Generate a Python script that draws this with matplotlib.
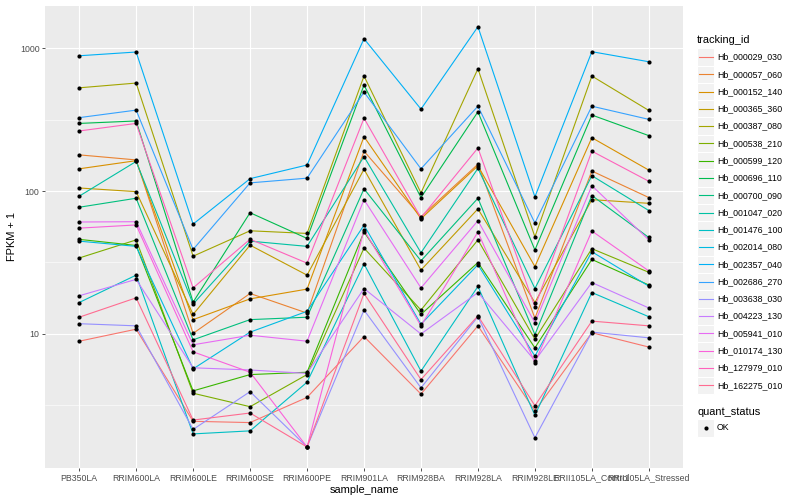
import numpy as np
import matplotlib
matplotlib.use("Agg")
import matplotlib.pyplot as plt
from matplotlib.patches import Rectangle

plt.rcParams['font.family'] = ['Liberation Sans', 'DejaVu Sans']

# samples on the x axis
samples = ["PB350LA", "RRIM600LA", "RRIM600LE", "RRIM600SE", "RRIM600PE",
           "RRIM901LA", "RRIM928BA", "RRIM928LA", "RRIM928LE",
           "RRII105LA_Control", "RRII105LA_Stressed"]

# FPKM + 1 per gene
hb_000029_030 = [8.9, 10.8, 2.45, 2.4, 3.6, 9.6, 3.8, 11.4, 2.9, 10.2, 8.1]
hb_000057_060 = [179, 165, 10.1, 19.2, 14.0, 190, 66, 154, 12.9, 138, 90]
hb_000152_140 = [143, 163, 12.6, 17.6, 20.6, 240, 64, 150, 29.6, 236, 140]
hb_000365_360 = [105, 99, 13.7, 41.8, 25.8, 142, 28, 75, 16.6, 87, 82]
hb_000387_080 = [527, 569, 35, 52.7, 50.5, 637, 97, 716, 47.8, 637, 366]
hb_000538_210 = [34, 45.5, 3.85, 3.1, 5.2, 39.9, 14.7, 45.5, 9.2, 39.5, 27.0]
hb_000599_120 = [45.9, 41.6, 4.0, 5.2, 5.4, 51.7, 13.7, 31.6, 8.0, 33.2, 22.0]
hb_000696_110 = [297, 309, 16.7, 70.5, 46.6, 551, 90, 358, 38.7, 340, 244]
hb_000700_090 = [77, 89, 9.1, 12.6, 13.1, 103.6, 32.5, 89, 9.9, 93, 47.3]
hb_001047_020 = [92, 161, 16.2, 44.6, 41, 174, 37, 144, 20.8, 128, 73]
hb_001476_100 = [16.6, 25.8, 2.0, 2.1, 4.6, 30.9, 5.5, 21.5, 2.7, 19.5, 13.2]
hb_002014_080 = [44.6, 41, 5.7, 10.3, 14.4, 57.7, 11.7, 30.5, 7.0, 37.6, 21.6]
hb_002357_040 = [883, 938, 58.7, 122, 152, 1162, 374, 1410, 91, 943, 802]
hb_002686_270 = [326, 368, 39, 114, 123, 492, 143, 392, 59.7, 392, 317]
hb_003638_030 = [11.8, 11.4, 2.15, 3.95, 1.62, 14.7, 4.2, 13.2, 1.88, 10.3, 9.4]
hb_004223_130 = [18.5, 24.1, 5.8, 5.6, 5.3, 20.8, 10.0, 19.5, 6.5, 22.9, 15.2]
hb_005941_010 = [60.7, 61, 8.4, 9.8, 8.9, 87, 21, 62, 12.0, 109, 45.5]
hb_010174_130 = [55, 57.9, 7.5, 5.4, 1.62, 53.3, 11.4, 51.7, 6.3, 52.5, 27.6]
hb_127979_010 = [263, 297, 21, 46, 31.3, 323, 65, 200, 15.5, 190, 117]
hb_162275_010 = [13.1, 17.9, 2.5, 2.8, 1.62, 19.2, 4.8, 13.4, 3.15, 12.3, 11.4]

tracking_ids = ["Hb_000029_030", "Hb_000057_060", "Hb_000152_140", "Hb_000365_360",
                "Hb_000387_080", "Hb_000538_210", "Hb_000599_120", "Hb_000696_110",
                "Hb_000700_090", "Hb_001047_020", "Hb_001476_100", "Hb_002014_080",
                "Hb_002357_040", "Hb_002686_270", "Hb_003638_030", "Hb_004223_130",
                "Hb_005941_010", "Hb_010174_130", "Hb_127979_010", "Hb_162275_010"]
series = [hb_000029_030, hb_000057_060, hb_000152_140, hb_000365_360,
          hb_000387_080, hb_000538_210, hb_000599_120, hb_000696_110,
          hb_000700_090, hb_001047_020, hb_001476_100, hb_002014_080,
          hb_002357_040, hb_002686_270, hb_003638_030, hb_004223_130,
          hb_005941_010, hb_010174_130, hb_127979_010, hb_162275_010]

# ggplot hue palette for 20 levels
colors = ["#F8766D", "#EA8331", "#D89000", "#C09B00", "#A3A500", "#7CAE00",
          "#39B600", "#00BB4E", "#00BF7D", "#00C1A3", "#00BFC4", "#00BAE0",
          "#00B0F6", "#35A2FF", "#9590FF", "#C77CFF", "#E76BF3", "#FA62DB",
          "#FF62BC", "#FF6C91"]

W, H = 800, 500
fig = plt.figure(figsize=(8, 5), dpi=100)
ax = fig.add_axes([45 / W, 1 - 468 / H, (683 - 45) / W, (468 - 5.7) / H])
ax.set_facecolor("#EBEBEB")

x = np.arange(1, len(samples) + 1)
for vals, col in zip(series, colors):
    ax.plot(x, vals, color=col, lw=0.8, zorder=3)
for vals in series:
    ax.plot(x, vals, 'o', color='black', ms=3, mew=0, zorder=4)

ax.set_yscale('log')
allv = np.log10(np.concatenate([np.array(s, float) for s in series]))
lo, hi = allv.min(), allv.max()
pad = 0.05 * (hi - lo)
ax.set_ylim(10 ** (lo - pad), 10 ** (hi + pad))
ax.set_xlim(0.4, len(samples) + 0.6)

ax.set_yticks([10, 100, 1000])
ax.set_yticklabels(["10", "100", "1000"])
ax.yaxis.set_minor_locator(matplotlib.ticker.NullLocator())
for m in [10 ** 0.5, 10 ** 1.5, 10 ** 2.5]:
    ax.axhline(m, color='white', lw=0.4, zorder=1)
ax.set_xticks(x)
ax.set_xticklabels(samples)
ax.grid(True, which='major', color='white', lw=0.8, zorder=1)
ax.set_axisbelow(True)
for sp in ax.spines.values():
    sp.set_visible(False)
ax.tick_params(axis='both', length=2.5, width=0.6, color='#333333',
               labelsize=6.3, labelcolor='#4D4D4D', pad=1.5)

ax.set_xlabel("sample_name", fontsize=7.9, labelpad=2)
ax.set_ylabel("FPKM + 1", fontsize=7.9, labelpad=2)

# legends drawn in pixel coordinates
lax = fig.add_axes([0, 0, 1, 1], zorder=5)
lax.set_xlim(0, W)
lax.set_ylim(H, 0)
lax.axis('off')

lax.text(697, 40, "tracking_id", fontsize=7.9, va='center', ha='left')
step = 17.28
for i, (name, col) in enumerate(zip(tracking_ids, colors)):
    yc = 57 + i * step
    lax.add_patch(Rectangle((697, yc - step / 2), step, step,
                            facecolor='#F2F2F2', edgecolor='white', lw=0.8))
    lax.plot([698.5, 712.5], [yc, yc], color=col, lw=0.8)
    lax.text(717, yc, name, fontsize=6.3, va='center', ha='left')

lax.text(697, 412, "quant_status", fontsize=7.9, va='center', ha='left')
yc = 428
lax.add_patch(Rectangle((697, yc - step / 2), step, step,
                        facecolor='#F2F2F2', edgecolor='white', lw=0.8))
lax.plot([697 + step / 2], [yc], 'o', color='black', ms=3, mew=0)
lax.text(717, yc, "OK", fontsize=6.3, va='center', ha='left')

fig.savefig("out.png", dpi=100)
